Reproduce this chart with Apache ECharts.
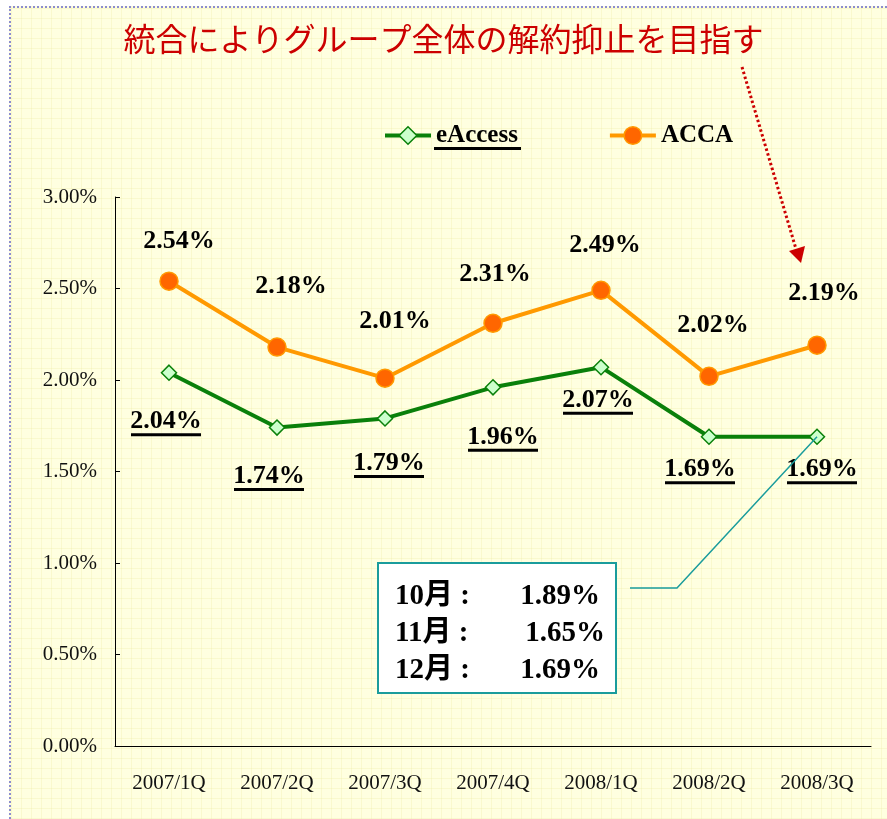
<!DOCTYPE html>
<html>
<head>
<meta charset="utf-8">
<script src="https://cdn.jsdelivr.net/npm/echarts@6/dist/echarts.min.js"></script>
<style>
  html, body { margin:0; padding:0; background:#fff; }
  #wrap { position:relative; width:887px; height:819px; overflow:hidden; }
  #paper { position:absolute; left:9px; top:6px; width:900px; height:830px;
    background-color:#FFFFE0;
    background-image: linear-gradient(rgba(235,232,150,0.25) 1px, transparent 1px),
                      linear-gradient(90deg, rgba(235,232,150,0.25) 1px, transparent 1px);
    background-size: 10px 10px;
    border-top:2px dotted #8C8CD0; border-left:2px dotted #8C8CD0; }
  #chart { position:absolute; left:0; top:0; width:887px; height:819px; }
</style>
</head>
<body>
<div id="wrap"><div id="paper"></div><div id="chart"></div></div>
<script>
// ---- data ----
const categories = ['2007/1Q','2007/2Q','2007/3Q','2007/4Q','2008/1Q','2008/2Q','2008/3Q'];
const eAccessValues = [2.04, 1.74, 1.79, 1.96, 2.07, 1.69, 1.69];
const accaValues = [2.54, 2.18, 2.01, 2.31, 2.49, 2.02, 2.19];
const seriesNames = ['eAccess', 'ACCA'];
const yMin = 0, yMax = 3, yInterval = 0.5;
const titleText = '統合によりグループ全体の解約抑止を目指す';
const monthLabels = ['10月', '11月', '12月'];
const monthValues = [1.89, 1.65, 1.69];

// ---- label nudges (style) ----
const eNudge = [[-3,51],[-8,51],[4,47],[10,52],[-3,35],[-9,35],[5,35]];
const aNudge = [[10,-40],[14,-61],[10,-57],[2,-49],[4,-45],[4,-51],[7,-52]];

const serif = "'Liberation Serif', 'Times New Roman', serif";
const fmtPct = v => v.toFixed(2) + '%';

const chart = echarts.init(document.getElementById('chart'), null, {renderer:'canvas'});

const eData = eAccessValues.map((v,i) => ({ value: v, label: { offset: eNudge[i] } }));
const aData = accaValues.map((v,i) => ({ value: v, label: { offset: aNudge[i] } }));

const option = {
  backgroundColor: 'transparent',
  animation: false,
  title: {
    text: titleText, left: 'center', top: 18,
    textStyle: { color:'#CC0000', fontSize: 32, fontWeight:'normal',
      fontFamily: "'Noto Sans CJK JP', sans-serif" }
  },
  legend: {
    left: 378, top: 118, itemWidth: 46, itemHeight: 22, itemGap: 90,
    data: [
      { name: seriesNames[0], itemStyle: { color:'#CCFFCC', borderColor:'#0A800A', borderWidth:1.5 }, lineStyle: { color:'#0A800A', width: 4 } },
      { name: seriesNames[1], itemStyle: { color:'#FF6600', borderColor:'#FF9900', borderWidth:1.5 }, lineStyle: { color:'#FF9900', width: 4 } }
    ],
    textStyle: { fontFamily: serif, fontWeight:'bold', fontSize: 25, color:'#000' }
  },
  grid: { left: 115, right: 16, top: 197, bottom: 73 },
  xAxis: {
    type:'category', data: categories, boundaryGap: true,
    axisLine: { lineStyle: { color:'#000', width:1 } },
    axisTick: { inside: true, length: 6, lineStyle:{ color:'#000' } },
    axisLabel: { margin: 27, fontFamily: serif, fontSize: 21, color:'#111' },
    splitLine: { show:false }
  },
  yAxis: {
    type:'value', min: yMin, max: yMax, interval: yInterval,
    axisLine: { show:true, lineStyle: { color:'#000', width:1 } },
    axisTick: { show:true, inside: true, length: 5, lineStyle:{ color:'#000' } },
    axisLabel: { margin: 18, fontFamily: serif, fontSize: 21, color:'#111', formatter: fmtPct },
    splitLine: { show:false }
  },
  series: [
    {
      name: seriesNames[0], type:'line', data: eData,
      symbol: 'diamond', symbolSize: 15,
      lineStyle: { color:'#0A800A', width: 4 },
      itemStyle: { color:'#CCFFCC', borderColor:'#0A800A', borderWidth: 1.5 },
      label: {
        show: true, position: 'inside',
        formatter: p => '{v|' + fmtPct(p.value) + '}\n{u| }',
        rich: {
          v: { fontFamily: serif, fontWeight:'bold', fontSize: 26, color:'#000', lineHeight: 22, align:'center' },
          u: { width: 70, height: 3, lineHeight: 4, backgroundColor:'#000', align:'center', fontSize: 2 }
        }
      },
      z: 3
    },
    {
      name: seriesNames[1], type:'line', data: aData,
      symbol: 'circle', symbolSize: 18,
      lineStyle: { color:'#FF9900', width: 4 },
      itemStyle: { color:'#FF6600', borderColor:'#FF9900', borderWidth: 1.5 },
      label: {
        show: true, position: 'inside', formatter: p => fmtPct(p.value),
        fontFamily: serif, fontWeight:'bold', fontSize: 26, color:'#000'
      },
      z: 3
    }
  ]
};
chart.setOption(option);

// annotation graphics
const lastPt = chart.convertToPixel({seriesIndex:0}, [categories.length-1, eAccessValues[eAccessValues.length-1]]);
const boxFont = "bold 29px " + serif + ", 'Noto Sans CJK JP'";
const valueRight = [600, 605, 600];
const rowY = [597, 634, 671];
const graphics = [
  { type:'rect', shape:{ x:434, y:147, width:87, height:3 }, style:{ fill:'#000' }, silent:true },
  { type:'line', shape:{ x1:742, y1:67, x2:796, y2:249 }, style:{ stroke:'#CC0000', lineWidth:3, lineDash:[2.5,2.5] }, silent:true },
  { type:'polygon', shape:{ points:[[789,251],[805,246],[801,263]] }, style:{ fill:'#CC0000' }, silent:true },
  { type:'polyline', shape:{ points:[[630,588],[677,588],[lastPt[0], lastPt[1]]] }, style:{ stroke:'#1A9C9C', lineWidth:1.5, fill:null }, silent:true, z:10 },
  { type:'rect', shape:{ x:378, y:563, width:238, height:130 }, style:{ fill:'#fff', stroke:'#1A9C9C', lineWidth:2 }, silent:true, z:10 }
];
monthLabels.forEach((m,i) => {
  graphics.push({ type:'text', x:395, y:rowY[i], z:11, silent:true,
    style:{ text: m + ' :', font: boxFont, fill:'#000', textAlign:'left', textVerticalAlign:'middle' } });
  graphics.push({ type:'text', x:valueRight[i], y:rowY[i], z:11, silent:true,
    style:{ text: fmtPct(monthValues[i]), font: boxFont, fill:'#000', textAlign:'right', textVerticalAlign:'middle' } });
});
chart.setOption({ graphic: graphics });
</script>
</body>
</html>
